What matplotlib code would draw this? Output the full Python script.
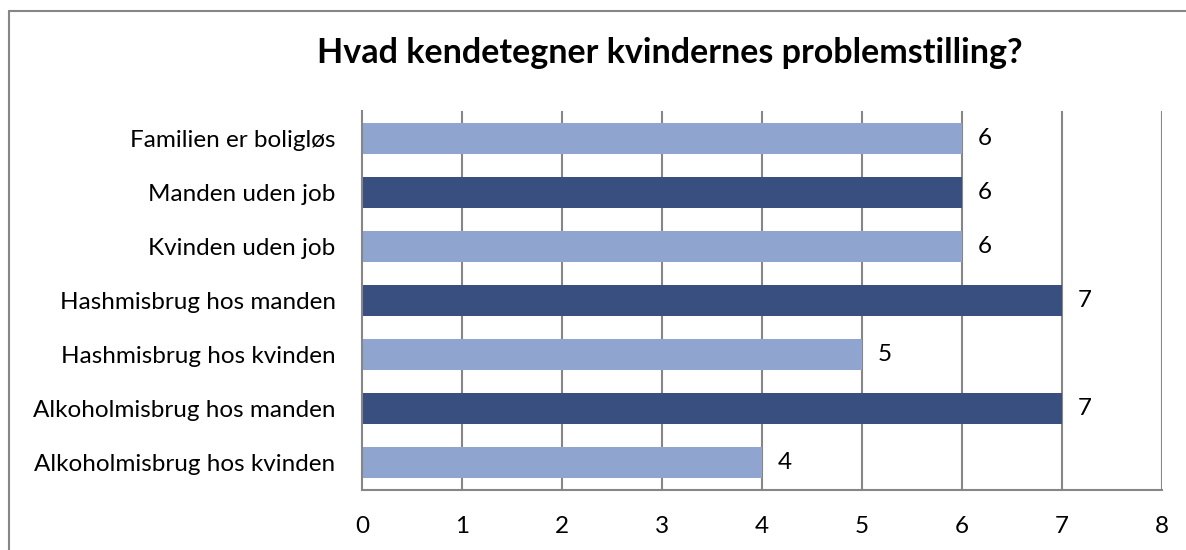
import matplotlib
matplotlib.use("Agg")
import matplotlib.pyplot as plt
from matplotlib.patches import Rectangle

# Data (top to bottom in the chart)
categories = [
    "Familien er boligløs",
    "Manden uden job",
    "Kvinden uden job",
    "Hashmisbrug hos manden",
    "Hashmisbrug hos kvinden",
    "Alkoholmisbrug hos manden",
    "Alkoholmisbrug hos kvinden",
]
values = [6, 6, 6, 7, 5, 7, 4]
x_ticks = [0, 1, 2, 3, 4, 5, 6, 7, 8]

LIGHT = "#8FA4CF"
DARK = "#384F80"
GRID = "#868686"
colors = [LIGHT, DARK, LIGHT, DARK, LIGHT, DARK, LIGHT]

plt.rcParams['font.family'] = ['Lato', 'DejaVu Sans']

W, H = 1186, 550
fig = plt.figure(figsize=(W / 100, H / 100), dpi=100)
ax = fig.add_axes([362 / W, 1 - 490 / H, (1162 - 362) / W, (490 - 111) / H])

pos = list(range(len(categories)))
ax.barh(pos, values, height=0.57, color=colors, zorder=3)
ax.set_ylim(len(categories) - 0.5, -0.5)
ax.set_xlim(0, 8)
ax.set_yticks(pos)
ax.set_yticklabels(categories, fontsize=17.5)
ax.set_xticks(x_ticks)
ax.set_xticklabels([str(t) for t in x_ticks], fontsize=17.5)
ax.tick_params(axis='y', length=0, pad=19)
ax.tick_params(axis='x', length=0, pad=19)

for t in x_ticks[1:]:
    ax.axvline(t, color=GRID, linewidth=1.5, zorder=1)

for s in ['top', 'right']:
    ax.spines[s].set_visible(False)
for s in ['left', 'bottom']:
    ax.spines[s].set_color(GRID)
    ax.spines[s].set_linewidth(1.5)
    ax.spines[s].set_zorder(4)

for p, v in zip(pos, values):
    ax.text(v + 0.16, p, str(v), va='center', ha='left', fontsize=17.5, zorder=5)

fig.text(670 / W, 1 - 53 / H, "Hvad kendetegner kvindernes problemstilling?",
         ha='center', va='center', fontsize=24.5, fontweight='bold')

border = Rectangle((9 / W, -0.1), 1.2, 1 - 11 / H + 0.1, transform=fig.transFigure,
                   fill=False, edgecolor=GRID, linewidth=1.5)
fig.patches.append(border)

fig.savefig("out.png", dpi=100)
